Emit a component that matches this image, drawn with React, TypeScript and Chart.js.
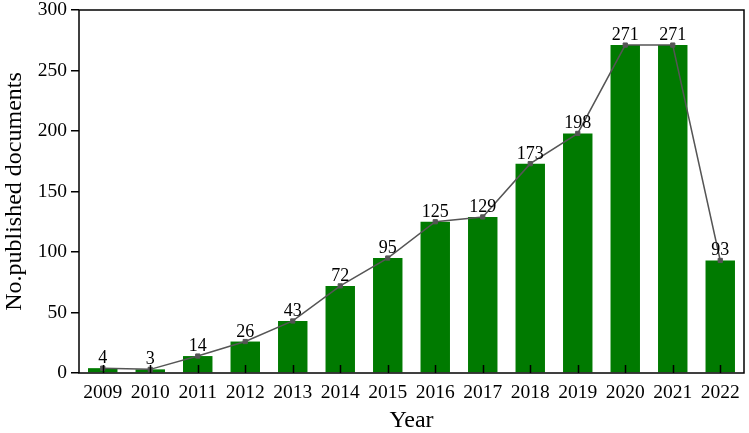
import React, { useEffect, useRef } from "react";
import { Chart, registerables } from "chart.js";

Chart.register(...registerables);

const years = ["2009","2010","2011","2012","2013","2014","2015","2016","2017","2018","2019","2020","2021","2022"];
const documents = [4, 3, 14, 26, 43, 72, 95, 125, 129, 173, 198, 271, 271, 93];
const yTicks = [0, 50, 100, 150, 200, 250, 300];

const SERIF = "'Liberation Serif', 'Times New Roman', serif";

const frame = {
  id: "frame",
  afterDatasetsDraw(chart: any) {
    const ctx = chart.ctx;
    const a = chart.chartArea;
    const xs = chart.scales.x;
    ctx.save();
    // inward x ticks
    ctx.strokeStyle = "#000";
    ctx.lineWidth = 1.5;
    years.forEach((_, i) => {
      const x = Math.round(xs.getPixelForValue(i)) + 0.5;
      ctx.beginPath();
      ctx.moveTo(x, a.bottom);
      ctx.lineTo(x, a.bottom - 8);
      ctx.stroke();
    });
    // value labels
    const meta = chart.getDatasetMeta(1);
    ctx.fillStyle = "#000";
    ctx.font = "18px " + SERIF;
    ctx.textAlign = "center";
    ctx.textBaseline = "alphabetic";
    meta.data.forEach((pt: any, i: number) => {
      ctx.fillText(String(documents[i]), pt.x, pt.y - 5);
    });
    // box
    ctx.lineWidth = 1.5;
    ctx.strokeRect(a.left, a.top, a.right - a.left, a.bottom - a.top);
    ctx.restore();
  },
};

export default function App() {
  const ref = useRef<HTMLCanvasElement | null>(null);
  useEffect(() => {
    document.body.style.margin = "0";
    const chart = new Chart(ref.current as HTMLCanvasElement, {
      type: "bar",
      data: {
        labels: years,
        datasets: [
          {
            type: "bar",
            data: documents,
            backgroundColor: "#007a00",
            borderWidth: 0,
            categoryPercentage: 1,
            barPercentage: 0.62,
            order: 2,
          },
          {
            type: "line",
            data: documents,
            borderColor: "#555555",
            backgroundColor: "#555555",
            borderWidth: 1.5,
            pointStyle: "rect",
            pointRadius: 3,
            pointBackgroundColor: "#555555",
            pointBorderColor: "#555555",
            pointBorderWidth: 1,
            tension: 0,
            order: 1,
          },
        ],
      } as any,
      options: {
        responsive: false,
        animation: false,
        devicePixelRatio: 1,
        layout: { padding: { top: 10, right: 3, left: 0, bottom: 0 } },
        plugins: { legend: { display: false }, tooltip: { enabled: false } },
        scales: {
          x: {
            offset: true,
            grid: { display: false, drawTicks: false },
            border: { display: false },
            ticks: {
              color: "#000",
              font: { family: SERIF, size: 19.5 },
              padding: 8,
              maxRotation: 0,
              autoSkip: false,
            },
            title: {
              display: true,
              text: "Year",
              color: "#000",
              font: { family: SERIF, size: 24, lineHeight: 1 },
              padding: 0,
            },
            afterFit: (s: any) => {
              s.height = 60;
            },
          },
          y: {
            min: 0,
            max: 300,
            grid: {
              display: true,
              drawOnChartArea: false,
              drawTicks: true,
              tickLength: 8,
              color: "#000",
              lineWidth: 1.5,
            },
            border: { display: false },
            afterBuildTicks: (s: any) => {
              s.ticks = yTicks.map((v) => ({ value: v }));
            },
            ticks: {
              color: "#000",
              font: { family: SERIF, size: 19.5, lineHeight: 1 },
              padding: 4,
            },
            title: {
              display: true,
              text: "No.published documents",
              color: "#000",
              font: { family: SERIF, size: 24, lineHeight: 1.2 },
              padding: 0,
            },
            afterFit: (s: any) => {
              s.width = 79;
              s.paddingTop = 0;
              s.paddingBottom = 0;
            },
          },
        },
      } as any,
      plugins: [frame],
    });
    return () => chart.destroy();
  }, []);
  return <canvas ref={ref} width={749} height={433} style={{ display: "block" }} />;
}
